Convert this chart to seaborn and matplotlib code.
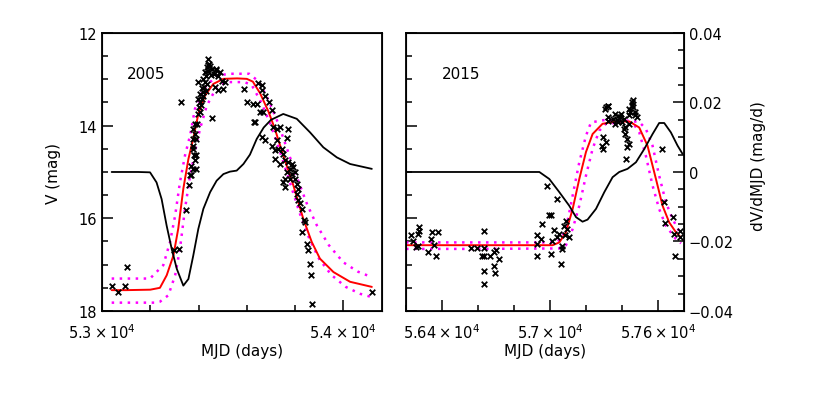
import numpy as np
import pandas as pd
import matplotlib
matplotlib.use("Agg")
import matplotlib.pyplot as plt
from matplotlib.ticker import MultipleLocator, FixedLocator, FixedFormatter
import seaborn as sns

# ---- 2005 outburst ----
obs05_mjd = [53040, 53065, 53095, 53105, 53298, 53320, 53327, 53348, 53362, 53363,
             53370, 53368, 53378, 53389, 53385, 53391, 53380, 53378, 53376, 53378,
             53391, 53385, 53378, 53386, 53395, 53399, 53406, 53403, 53406, 53399,
             53413, 53406, 53417, 53413, 53423, 53399, 53427, 53420, 53431, 53427,
             53441, 53437, 53445, 53441, 53440, 53448, 53452, 53435, 53430, 53420,
             53410, 53455, 53462, 53473, 53482, 53489, 53496, 53482, 53503, 53472,
             53510, 53468, 53455, 53589, 53648, 53662, 53600, 53627, 53634, 53655,
             53662, 53641, 53676, 53690, 53703, 53669, 53630, 53710, 53724, 53738,
             53769, 53766, 53662, 53676, 53724, 53703, 53717, 53731, 53745, 53752,
             53717, 53738, 53759, 53772, 53786, 53793, 53779, 53766, 53786, 53800,
             53800, 53779, 53759, 53752, 53759, 53807, 53814, 53807, 53814, 53821,
             53828, 53835, 53842, 53828, 53849, 53855, 53862, 53866, 53869, 54118]
obs05_v = [17.45, 17.60, 17.46, 17.05, 16.69, 16.66, 13.48, 15.81, 15.29, 15.07,
           15.06, 14.86, 14.93, 14.93, 14.75, 14.64, 14.64, 14.50, 14.43, 14.28,
           14.28, 14.18, 14.07, 13.96, 13.96, 13.75, 13.71, 13.60, 13.49, 13.42,
           13.42, 13.31, 13.28, 13.19, 13.17, 13.06, 13.06, 12.99, 12.92, 12.85,
           12.81, 12.74, 12.67, 12.56, 12.70, 12.72, 12.90, 13.10, 13.25, 13.35,
           13.55, 12.78, 12.89, 12.80, 12.92, 12.85, 13.03, 13.24, 13.21, 12.78,
           13.06, 13.17, 13.84, 13.21, 13.08, 13.13, 13.49, 13.53, 13.92, 13.71,
           13.24, 13.53, 13.35, 13.49, 13.67, 13.71, 13.93, 14.03, 14.07, 14.03,
           14.07, 14.27, 14.25, 14.32, 14.32, 14.43, 14.53, 14.50, 14.50, 14.61,
           14.72, 14.82, 14.75, 14.79, 14.82, 14.89, 14.93, 15.00, 15.04, 15.00,
           15.15, 15.15, 15.15, 15.22, 15.33, 15.25, 15.36, 15.47, 15.61, 15.68,
           15.79, 16.04, 16.08, 16.30, 16.55, 16.69, 16.98, 17.22, 17.84, 17.58]

fit05_mjd = [53040, 53100, 53200, 53240, 53268, 53296, 53316, 53337, 53358, 53378,
             53399, 53427, 53461, 53503, 53560, 53600, 53625, 53655, 53690, 53715,
             53751, 53793, 53834, 53869, 53903, 53959, 54028, 54118]
fit05_v = [17.55, 17.55, 17.54, 17.50, 17.23, 16.80, 16.22, 15.36, 14.72, 14.28,
           13.75, 13.35, 13.10, 12.99, 12.98, 12.99, 13.05, 13.30, 13.70, 14.05,
           14.64, 15.29, 16.01, 16.51, 16.87, 17.16, 17.37, 17.48]

hi05_mjd = [53040, 53199, 53254, 53282, 53303, 53323, 53344, 53365, 53385, 53420,
            53475, 53530, 53610, 53650, 53690, 53730, 53770, 53810, 53850, 53890,
            53940, 54000, 54060, 54118]
hi05_v = [17.30, 17.30, 17.01, 16.51, 15.94, 15.22, 14.64, 14.21, 13.64, 13.21,
          12.92, 12.88, 12.88, 13.05, 13.45, 13.95, 14.55, 15.15, 15.70, 16.15,
          16.58, 16.95, 17.15, 17.27]

lo05_mjd = [53040, 53225, 53240, 53275, 53303, 53323, 53344, 53365, 53385, 53406,
            53434, 53475, 53517, 53590, 53620, 53660, 53700, 53740, 53780, 53820,
            53860, 53900, 53950, 54010, 54070, 54118]
lo05_v = [17.82, 17.82, 17.80, 17.66, 17.23, 16.66, 15.79, 15.08, 14.57, 14.07,
          13.57, 13.17, 13.06, 13.06, 13.12, 13.50, 14.00, 14.60, 15.25, 15.90,
          16.45, 16.88, 17.22, 17.48, 17.63, 17.70]

der05_mjd = [53040, 53150, 53199, 53226, 53247, 53268, 53289, 53310, 53337, 53358,
             53378, 53399, 53420, 53448, 53475, 53503, 53530, 53558, 53586, 53613,
             53641, 53670, 53700, 53751, 53807, 53862, 53917, 53973, 54028, 54118]
der05 = [0, 0, -0.0001, -0.0030, -0.0078, -0.0155, -0.0222, -0.0279, -0.0327, -0.0308,
         -0.0241, -0.0164, -0.0106, -0.0058, -0.0025, -0.0006, 0.0001, 0.0004, 0.0023, 0.0050,
         0.0095, 0.0128, 0.0150, 0.0167, 0.0153, 0.0114, 0.0071, 0.0042, 0.0023, 0.0009]

# ---- 2015 outburst ----
obs15_mjd = [56228, 56241, 56256, 56269, 56265, 56274, 56274, 56321, 56339, 56343,
             56354, 56367, 56376, 56561, 56594, 56621, 56632, 56632, 56636, 56636,
             56632, 56665, 56689, 56698, 56687, 56693, 56717, 56926, 56950, 56926,
             56926, 56958, 56986, 56995, 57004, 57004, 57013, 57023, 57041, 57041,
             57050, 57060, 57065, 57069, 57078, 57082, 57087, 57097, 57106, 57292,
             57296, 57310, 57289, 57307, 57325, 57311, 57320, 57325, 57320, 57359,
             57372, 57390, 57377, 57400, 57409, 57418, 57427, 57427, 57424, 57437,
             57455, 57459, 57446, 57474, 57483, 57363, 57409, 57437, 57418, 57437,
             57440, 57459, 57457, 57350, 57380, 57395, 57470, 57622, 57635, 57640,
             57685, 57690, 57723, 57721, 57695]
obs15_v = [16.37, 16.50, 16.61, 16.60, 16.34, 16.19, 16.27, 16.73, 16.45, 16.30,
           16.58, 16.81, 16.30, 16.63, 16.63, 16.82, 16.82, 16.65, 16.27, 17.13,
           17.42, 16.82, 16.73, 16.69, 17.02, 17.17, 16.87, 16.37, 16.45, 16.55,
           16.82, 16.12, 15.30, 15.93, 15.93, 16.76, 16.50, 16.25, 15.58, 16.40,
           16.33, 16.99, 16.60, 16.67, 16.16, 16.37, 16.05, 16.23, 16.40, 14.25,
           14.50, 14.36, 14.43, 13.64, 13.58, 13.60, 13.57, 13.82, 13.90, 13.75,
           13.87, 13.82, 13.93, 13.93, 14.07, 14.18, 14.29, 14.47, 14.72, 13.78,
           13.50, 13.60, 13.71, 13.71, 13.82, 13.96, 13.86, 13.96, 14.03, 14.40,
           13.65, 13.45, 13.55, 13.85, 13.80, 13.75, 13.78, 14.50, 15.64, 16.10,
           15.98, 16.34, 16.28, 16.41, 16.82]

fit15_mjd = [56200, 56600, 57015, 57052, 57089, 57126, 57163, 57200, 57237, 57292,
             57367, 57441, 57496, 57542, 57589, 57626, 57663, 57700, 57725]
fit15_v = [16.58, 16.58, 16.58, 16.52, 16.30, 15.80, 15.15, 14.57, 14.18, 13.96,
           13.91, 13.91, 14.04, 14.43, 15.15, 15.73, 16.09, 16.30, 16.40]

hi15_mjd = [56200, 56600, 57030, 57060, 57089, 57126, 57163, 57200, 57228, 57300,
            57400, 57496, 57533, 57570, 57607, 57644, 57681, 57725]
hi15_v = [16.52, 16.52, 16.52, 16.45, 16.23, 15.51, 14.79, 14.22, 13.93, 13.88,
          13.88, 13.92, 14.07, 14.43, 15.08, 15.65, 16.01, 16.33]

lo15_mjd = [56200, 56600, 57050, 57089, 57126, 57163, 57200, 57237, 57274, 57311,
            57400, 57459, 57496, 57533, 57570, 57607, 57644, 57700, 57728]
lo15_v = [16.66, 16.66, 16.65, 16.58, 16.23, 15.73, 15.08, 14.50, 14.11, 13.96,
          13.93, 13.93, 14.14, 14.65, 15.29, 15.80, 16.16, 16.45, 16.54]

der15_mjd = [56200, 56600, 56941, 56996, 57052, 57107, 57145, 57181, 57209, 57256,
             57302, 57348, 57385, 57431, 57478, 57524, 57570, 57607, 57635, 57672,
             57709, 57737]
der15 = [0, 0, 0, -0.0020, -0.0058, -0.0097, -0.0130, -0.0143, -0.0137, -0.0106,
         -0.0058, -0.0015, 0.0, 0.0009, 0.0028, 0.0066, 0.0109, 0.0141, 0.0141, 0.0114,
         0.0076, 0.0052]

sns.set_style("ticks")
plt.rcParams['font.family'] = ['DejaVu Sans']
plt.rcParams['mathtext.default'] = 'regular'
for key in ['text.color', 'axes.labelcolor', 'xtick.color', 'ytick.color',
            'axes.edgecolor']:
    plt.rcParams[key] = 'black'

fig = plt.figure(figsize=(8.3, 4.14), dpi=100)
ax1 = fig.add_axes([0.1229, 0.2464, 0.3373, 0.6715])
ax2 = fig.add_axes([0.4892, 0.2464, 0.3349, 0.6715])


def draw_panel(ax, obs_x, obs_y, fx, fy, hx, hy, lx, ly, dx, dy, xlim):
    # model band (dotted) and best fit (red)
    for bx, by in [(hx, hy), (lx, ly)]:
        sns.lineplot(x=bx, y=by, ax=ax, color="magenta", lw=1.8, ls=(0, (1, 2.2)),
                     sort=False, estimator=None)
    sns.lineplot(x=fx, y=fy, ax=ax, color="red", lw=1.4, sort=False,
                 estimator=None)
    sns.scatterplot(x=obs_x, y=obs_y, ax=ax, marker="x", color="black", s=16,
                    linewidth=1.3, zorder=5)
    ax.set_xlim(*xlim)
    ax.set_ylim(18, 12)
    ax.yaxis.set_major_locator(MultipleLocator(2))
    ax.yaxis.set_minor_locator(MultipleLocator(0.5))
    ax.xaxis.set_minor_locator(MultipleLocator(200))
    ax.tick_params(which="both", direction="in", right=True, top=False,
                   labelsize=10.5, width=1.1)
    ax.tick_params(which="major", length=8)
    ax.tick_params(which="minor", length=4)
    ax.tick_params(axis="x", pad=8)
    for s in ax.spines.values():
        s.set_linewidth(1.3)
    ax.set_xlabel("")
    ax.set_ylabel("")
    # derivative on the dV/dMJD scale
    tw = ax.twinx()
    tw.set_ylim(-0.04, 0.04)
    sns.lineplot(x=dx, y=dy, ax=tw, color="black", lw=1.3, sort=False,
                 estimator=None)
    tw.set_ylabel("")
    return tw


tw1 = draw_panel(ax1, obs05_mjd, obs05_v, fit05_mjd, fit05_v, hi05_mjd, hi05_v,
                 lo05_mjd, lo05_v, der05_mjd, der05, (53000, 54160))
tw2 = draw_panel(ax2, obs15_mjd, obs15_v, fit15_mjd, fit15_v, hi15_mjd, hi15_v,
                 lo15_mjd, lo15_v, der15_mjd, der15, (56200, 57745))

ax1.xaxis.set_major_locator(FixedLocator([53000, 54000]))
ax1.xaxis.set_major_formatter(FixedFormatter([r'$5.3\times10^4$', r'$5.4\times10^4$']))
ax1.set_yticks([12, 14, 16, 18])
ax1.set_yticklabels(["12", "14", "16", "18"])
tw1.set_yticks([])
tw1.tick_params(right=False, labelright=False)

ax2.xaxis.set_major_locator(FixedLocator([56400, 57000, 57600]))
ax2.xaxis.set_major_formatter(FixedFormatter([r'$5.64\times10^4$', r'$5.7\times10^4$',
                                              r'$5.76\times10^4$']))
ax2.tick_params(labelleft=False, right=False)
tw2.set_yticks([-0.04, -0.02, 0, 0.02, 0.04])
tw2.set_yticklabels(["\u22120.04", "\u22120.02", "0", "0.02", "0.04"])
tw2.yaxis.set_minor_locator(MultipleLocator(0.005))
tw2.tick_params(which="both", direction="in", labelsize=10.5, width=1.1)
tw2.tick_params(which="major", length=8)
tw2.tick_params(which="minor", length=4)

ax1.text(0.09, 0.853, "2005", transform=ax1.transAxes, fontsize=11, va="center")
ax2.text(0.13, 0.853, "2015", transform=ax2.transAxes, fontsize=11, va="center")

fig.text(0.064, 0.582, "V (mag)", rotation=90, ha="center", va="center", fontsize=11)
fig.text(0.2916, 0.152, "MJD (days)", ha="center", va="center", fontsize=11)
fig.text(0.657, 0.152, "MJD (days)", ha="center", va="center", fontsize=11)
fig.text(0.914, 0.60, "dV/dMJD (mag/d)", rotation=90, ha="center", va="center",
         fontsize=11)

fig.savefig("out.png", dpi=100)
